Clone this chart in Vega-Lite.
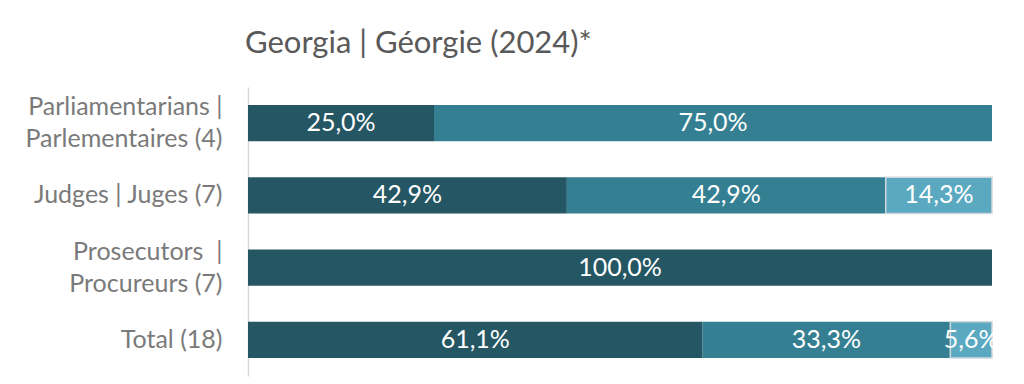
{
  "$schema": "https://vega.github.io/schema/vega-lite/v6.json",
  "width": 744,
  "height": 289,
  "autosize": "none",
  "padding": {"left": 248, "top": 87, "right": 32, "bottom": 8},
  "background": "white",
  "config": {
    "view": {"stroke": null},
    "locale": {"number": {"decimal": ",", "thousands": ".", "grouping": [3], "currency": ["", " €"]}},
    "font": "Lato"
  },
  "title": {
    "text": "Georgia | Géorgie (2024)*",
    "anchor": "start",
    "frame": "group",
    "fontSize": 31,
    "fontWeight": "normal",
    "color": "#595959",
    "font": "Lato",
    "offset": 27,
    "dx": -3
  },
  "data": {
    "values": [
      {"cat": "Parliamentarians |\nParlementaires (4)", "s": "s1", "v": 0.25},
      {"cat": "Parliamentarians |\nParlementaires (4)", "s": "s2", "v": 0.75},
      {"cat": "Judges | Juges (7)", "s": "s1", "v": 0.429},
      {"cat": "Judges | Juges (7)", "s": "s2", "v": 0.429},
      {"cat": "Judges | Juges (7)", "s": "s3", "v": 0.143},
      {"cat": "Prosecutors \u00a0|\nProcureurs (7)", "s": "s1", "v": 1.0},
      {"cat": "Total (18)", "s": "s1", "v": 0.611},
      {"cat": "Total (18)", "s": "s2", "v": 0.333},
      {"cat": "Total (18)", "s": "s3", "v": 0.056}
    ]
  },
  "transform": [
    {"stack": "v", "groupby": ["cat"], "sort": [{"field": "s", "order": "ascending"}], "offset": "normalize", "as": ["x0", "x1"]},
    {"calculate": "(datum.x0 + datum.x1) / 2", "as": "xm"}
  ],
  "encoding": {
    "y": {
      "field": "cat",
      "type": "nominal",
      "sort": null,
      "title": null,
      "scale": {"paddingInner": 0.5, "paddingOuter": 0.25},
      "axis": {
        "labelExpr": "split(datum.label, '\\n')",
        "labelFontSize": 25,
        "labelColor": "#7a7a7a",
        "labelFont": "Lato",
        "labelLineHeight": 32,
        "labelOffset": {"condition": {"test": "indexof(datum.value, '\\n') >= 0", "value": -16}, "value": 0},
        "labelPadding": 26,
        "ticks": false,
        "domainColor": "#d9d9d9",
        "domainWidth": 1.5,
        "labelLimit": 300
      }
    }
  },
  "layer": [
    {
      "mark": {"type": "bar"},
      "encoding": {
        "x": {"field": "x0", "type": "quantitative", "scale": {"domain": [0, 1]}, "axis": null},
        "x2": {"field": "x1"},
        "color": {
          "field": "s",
          "type": "nominal",
          "scale": {"domain": ["s1", "s2", "s3"], "range": ["#245663", "#357F92", "#5AA9C1"]},
          "legend": null
        },
        "stroke": {
          "condition": {"test": "datum.s == 's3'", "value": "#cfd8db"},
          "value": null
        },
        "strokeWidth": {"value": 1.5}
      }
    },
    {
      "mark": {"type": "text", "color": "white", "fontSize": 25, "font": "Lato", "align": "center", "baseline": "middle"},
      "encoding": {
        "x": {"field": "xm", "type": "quantitative"},
        "text": {"field": "v", "type": "quantitative", "format": ".1%"}
      }
    }
  ]
}
